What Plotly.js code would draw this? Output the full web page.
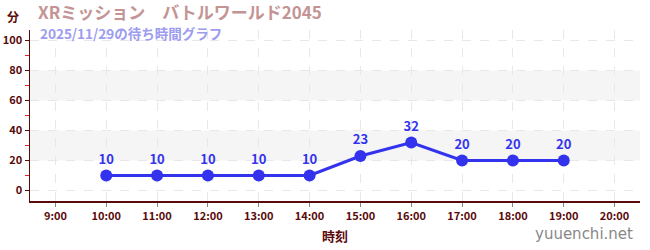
<!DOCTYPE html>
<html>
<head>
<meta charset="utf-8">
<script src="https://cdn.plot.ly/plotly-3.0.1.min.js"></script>
<style>html,body{margin:0;padding:0;background:#fff;}#chart{width:650px;height:250px;}</style>
</head>
<body>
<div id="chart"></div>
<script>
const times = ['10:00','11:00','12:00','13:00','14:00','15:00','16:00','17:00','18:00','19:00'];
const waits = [10,10,10,10,10,23,32,20,20,20];
const tickLabels = ['9:00','10:00','11:00','12:00','13:00','14:00','15:00','16:00','17:00','18:00','19:00','20:00'];
const bands = [[20,40],[60,80]];
const titleText = 'XRミッション　バトルワールド2045';
const subtitleText = '2025/11/29の待ち時間グラフ';

const toHour = s => { const p = s.split(':'); return +p[0] + (+p[1])/60; };
const xs = times.map(toHour);
const tickVals = tickLabels.map(toHour);
const F = '"Noto Sans CJK JP", "Noto Sans", sans-serif';
const dark = '#5a0a0a';

const trace = {
  x: xs, y: waits, mode: 'lines+markers+text', type: 'scatter',
  line: {color: '#3333ee', width: 3},
  marker: {color: '#3333ee', size: 12},
  text: waits.map(String), textposition: 'top center',
  textfont: {family: F, size: 13, color: '#3333ee', weight: 'bold'},
  hoverinfo: 'none', cliponaxis: false
};

const shapes = bands.map(b => ({type:'rect', xref:'paper', x0:0, x1:1, yref:'y', y0:b[0], y1:b[1], fillcolor:'#f5f5f5', line:{width:0}, layer:'below'}));

const layout = {
  width: 650, height: 250,
  margin: {l: 30, r: 10, t: 30, b: 49},
  paper_bgcolor: '#fff', plot_bgcolor: '#fff',
  showlegend: false,
  shapes: shapes,
  xaxis: {
    range: [8.5, 20.5], tickvals: tickVals, ticktext: tickLabels,
    showline: true, linecolor: dark, linewidth: 1.5,
    ticks: 'outside', ticklen: 4, tickcolor: '#888',
    tickfont: {family: F, size: 11, color: dark, weight: 'bold'},
    showgrid: true, gridcolor: '#e8e8e8', griddash: 'dash', gridwidth: 1,
    zeroline: false, fixedrange: true,
    title: {text: '時刻', font: {family: F, size: 13, color: dark, weight: 'bold'}, standoff: 10}
  },
  yaxis: {
    range: [-7, 107], tickvals: [0,20,40,60,80,100],
    showline: true, linecolor: dark, linewidth: 1.5,
    ticks: 'outside', ticklen: 4, tickcolor: dark,
    tickfont: {family: F, size: 11, color: dark, weight: 'bold'},
    showgrid: true, gridcolor: '#e8e8e8', griddash: 'dash', gridwidth: 1,
    zeroline: false, fixedrange: true,
    minor: {tickvals: [10,30,50,70,90], ticks: 'outside', ticklen: 4, tickcolor: '#dd2222', showgrid: false}
  },
  annotations: [
    {text: '分', xref: 'paper', yref: 'paper', x: -0.015, y: 1.0, yshift: 3, xanchor: 'right', yanchor: 'bottom', showarrow: false, font: {family: F, size: 12, color: dark, weight: 'bold'}},
    {text: titleText, xref: 'paper', yref: 'paper', x: 0.01, y: 1.0, yshift: 4, xanchor: 'left', yanchor: 'bottom', showarrow: false, font: {family: F, size: 17, color: '#c49494', weight: 'bold'}},
    {text: subtitleText, xref: 'paper', yref: 'paper', x: 0.013, y: 1.0, yshift: -15, xanchor: 'left', yanchor: 'bottom', showarrow: false, font: {family: F, size: 13.5, color: '#9c9cf0', weight: 'bold'}},
    {text: 'yuuenchi.net', xref: 'paper', yref: 'paper', x: 1.0, xshift: -5, y: 0, yshift: -33, xanchor: 'right', yanchor: 'middle', showarrow: false, font: {family: '"DejaVu Sans", sans-serif', size: 15, color: '#888'}}
  ]
};

Plotly.newPlot('chart', [trace], layout, {displayModeBar: false, staticPlot: true});
</script>
</body>
</html>
